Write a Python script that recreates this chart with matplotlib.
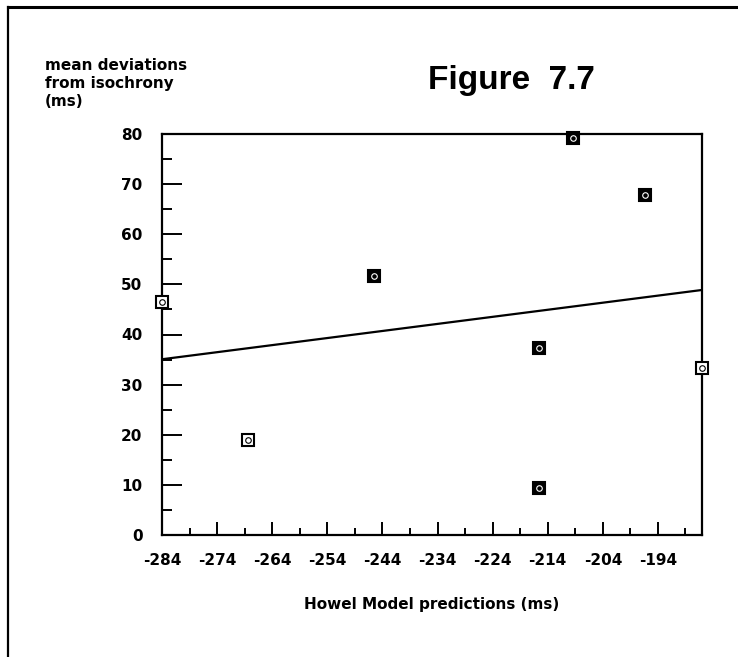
import numpy as np
import matplotlib.pyplot as plt
from matplotlib.lines import Line2D
from matplotlib.ticker import MultipleLocator

plt.rcParams['axes.unicode_minus'] = False

# Howell model predictions (ms) vs mean deviations from isochrony (ms)
pred = [-284.0, -268.4, -245.5, -215.6, -215.6, -209.5, -196.4, -186.0]
dev = [46.4, 18.9, 51.6, 37.4, 9.4, 79.2, 67.8, 33.4]
solid = [False, False, True, True, True, True, True, False]

xticks = [-284, -274, -264, -254, -244, -234, -224, -214, -204, -194]
yticks = [0, 10, 20, 30, 40, 50, 60, 70, 80]

W, H = 738, 657
fig = plt.figure(figsize=(W / 100, H / 100), dpi=100)
ax = fig.add_axes([162 / W, 1 - 535 / H, 540 / W, 401 / H])

bold = dict(family='DejaVu Sans', weight='bold')

# least squares line through the points
slope, icpt = np.polyfit(pred, dev, 1)
xl = np.array([-284, -186])
ax.plot(xl, slope * xl + icpt, color='black', lw=1.6, zorder=2)

for x, y, s in zip(pred, dev, solid):
    ax.plot(x, y, marker='s', ms=8, mec='black', mew=1.5,
            mfc='black' if s else 'white', clip_on=False, zorder=3)
    ax.plot(x, y, marker='o', ms=4, mec='white' if s else 'black',
            mfc='none', mew=0.8, clip_on=False, zorder=4)

ax.set_xlim(-284, -186)
ax.set_ylim(0, 80)
ax.set_xticks(xticks)
ax.set_yticks(yticks)
ax.set_xticks([t + 5 for t in xticks], minor=True)
ax.yaxis.set_minor_locator(MultipleLocator(5))

for sp in ax.spines.values():
    sp.set_linewidth(1.6)

ax.tick_params(axis='y', which='major', direction='in', length=14.4, width=1.4, pad=14)
ax.tick_params(axis='y', which='minor', direction='in', length=7.2, width=1.4)
ax.tick_params(axis='x', which='major', direction='in', length=9.4, width=1.4, pad=13)
ax.tick_params(axis='x', which='minor', direction='in', length=5, width=1.4)
for lab in ax.get_xticklabels() + ax.get_yticklabels():
    lab.set_fontproperties('DejaVu Sans')
    lab.set_fontweight('bold')
    lab.set_fontsize(11)

fig.text(432 / W, 1 - 604 / H, 'Howel Model predictions (ms)', ha='center',
         va='center', fontsize=11, **bold)
fig.text(45 / W, 1 - 58 / H, 'mean deviations\nfrom isochrony\n(ms)', ha='left',
         va='top', fontsize=11, linespacing=1.25, **bold)
fig.text(511 / W, 1 - 80 / H, 'Figure  7.7', ha='center', va='center',
         fontsize=24, family='Liberation Sans', weight='bold')

# page border lines on top and left
fig.add_artist(Line2D([8 / W, 1], [1 - 7 / H, 1 - 7 / H], color='black', lw=2.2))
fig.add_artist(Line2D([8 / W, 8 / W], [0, 1 - 7 / H], color='black', lw=1.6))

fig.savefig('out.png', dpi=100)
